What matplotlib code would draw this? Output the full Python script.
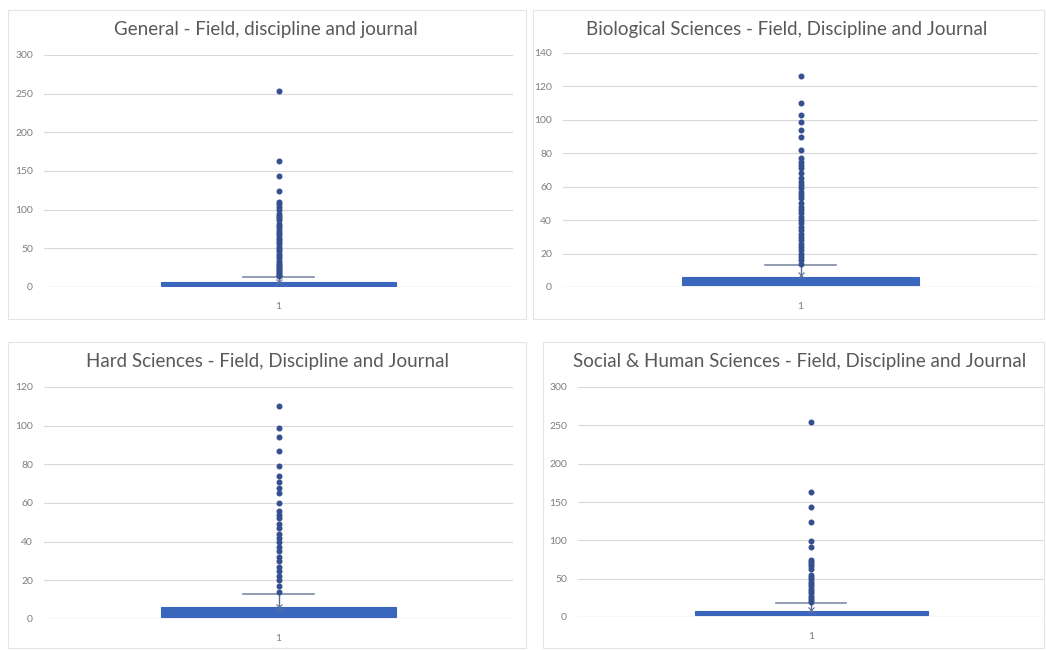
import matplotlib
matplotlib.use("Agg")
from matplotlib import pyplot as plt
from matplotlib.patches import Rectangle

plt.rcParams['font.family'] = ['Lato', 'DejaVu Sans']

titles = ["General - Field, discipline and journal",
          "Biological Sciences - Field, Discipline and Journal",
          "Hard Sciences - Field, Discipline and Journal",
          "Social & Human Sciences - Field, Discipline and Journal"]

# box statistics: q1, median, q3, low whisker, high whisker, mean
q1 = [1, 1, 1, 2]
med = [3, 3, 3, 4]
q3 = [6, 6, 6, 8]
whislo = [1, 1, 1, 2]
whishi = [13, 13, 13, 18]
means = [6, 7, 6, 9]

general_out = [254, 163, 143, 124, 110, 107, 103, 99, 95, 92, 89, 86, 82, 79, 76, 73,
               70, 67, 64, 61, 58, 55, 52, 49, 46, 43, 40, 37, 34, 31, 29, 27, 25, 23,
               21, 19, 17, 15, 14]
bio_out = [126, 110, 103, 99, 94, 90, 82, 77, 75, 73, 71, 68, 65, 63, 61, 59, 57, 55, 53,
           50, 48, 46, 44, 42, 40, 38, 36, 34, 32, 30, 28, 26, 24, 22, 20, 18, 16, 14]
hard_out = [110, 99, 94, 87, 79, 74, 71, 68, 65, 60, 56, 54, 52, 49, 47, 44, 42, 40, 37,
            35, 32, 30, 27, 25, 22, 20, 17, 14]
social_out = [254, 163, 143, 124, 99, 91, 75, 72, 69, 66, 62, 55, 52, 49, 46, 43, 40, 37,
              34, 31, 28, 25, 22, 20]
outliers = [general_out, bio_out, hard_out, social_out]

y_max = [300, 140, 120, 300]
y_step = [50, 20, 20, 50]
x_labels = ["1"]

W, H = 1046, 650
fig = plt.figure(figsize=(W / 100, H / 100), dpi=100)

# panel frames and plot areas in pixels (left, top, right, bottom)
frames = [(8, 10, 526, 319), (533, 10, 1044, 319), (8, 342, 526, 648), (543, 342, 1044, 648)]
areas = [(44, 55, 513, 287), (563, 53, 1038, 287), (44, 387, 513, 619), (578, 387, 1044, 617)]
title_x = [266, 787, 267, 800]

box_col = "#3B66BE"
pt_col = "#34508F"
grey = "#D9D9D9"

for i in range(4):
    l, t, r, b = frames[i]
    fig.patches.append(Rectangle((l / W, 1 - b / H), (r - l) / W, (b - t) / H,
                                 transform=fig.transFigure, fill=False,
                                 edgecolor="#E4E4E4", linewidth=0.8))
    l, t, r, b = areas[i]
    ax = fig.add_axes([l / W, 1 - b / H, (r - l) / W, (b - t) / H])

    stats = [dict(q1=q1[i], med=med[i], q3=q3[i], whislo=whislo[i], whishi=whishi[i],
                  mean=means[i], fliers=outliers[i], label=x_labels[0])]
    res = ax.bxp(stats, positions=[1], widths=0.5, capwidths=0.15, showmeans=True,
                 patch_artist=True,
                 boxprops=dict(facecolor=box_col, edgecolor=box_col, linewidth=0.8),
                 medianprops=dict(color=box_col, linewidth=0.8),
                 whiskerprops=dict(color="#5B6F9A", linewidth=1.0),
                 capprops=dict(color="#7F8CA8", linewidth=1.2),
                 meanprops=dict(marker="x", markeredgecolor="#5B6F9A", markersize=4,
                                markeredgewidth=0.8),
                 flierprops=dict(marker="o", markerfacecolor=pt_col, markeredgecolor=pt_col,
                                 markersize=3.3))
    # only the upper cap shows in the original
    res["caps"][0].set_visible(False)

    ax.set_xlim(0.5, 1.5)
    ax.set_ylim(0, y_max[i])
    ax.set_yticks(range(0, y_max[i] + 1, y_step[i]))
    ax.yaxis.grid(True, color=grey, linewidth=0.8)
    ax.set_axisbelow(True)
    for s in ["top", "right", "left", "bottom"]:
        ax.spines[s].set_visible(False)
    ax.axhline(0, color=grey, linewidth=0.9, zorder=0)
    ax.tick_params(axis="both", length=0, labelsize=7.5, colors="#7F7F7F", pad=8)
    ax.tick_params(axis="x", pad=11)
    ax.set_facecolor("none")

    fig.text(title_x[i] / W, 1 - (frames[i][1] + 20) / H, titles[i], ha="center",
             va="center", fontsize=13.5, color="#595959")

fig.savefig("out.png", dpi=100)
